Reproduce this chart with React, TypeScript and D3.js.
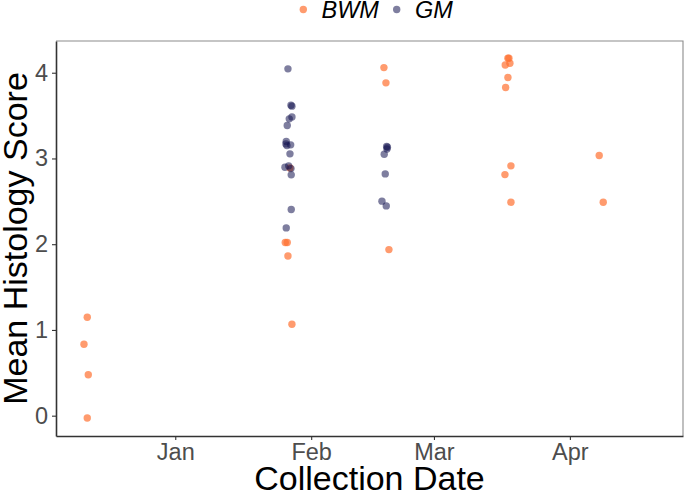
import { useEffect, useRef } from "react";
import * as d3 from "d3";

// days relative to 1 Jan 2019 (negative = December 2018), jittered as in the source plot
const BWM_DAYS = [
  -20.07, -20.82, -19.84, -20.07,
  25.09, 25.54, 25.7, 26.61, 26.16,
  47.59, 48.05, 48.73,
  75.87, 76.1, 75.26, 76.33, 75.87, 75.35, 76.56, 75.19, 76.56,
  96.69, 97.61,
];
const BWM_SCORES = [
  1.148, 0.833, 0.478, -0.027,
  2.019, 2.019, 1.863, 1.066, 2.89,
  4.06, 3.882, 1.937,
  4.17, 4.17, 4.09, 4.11, 3.944, 3.827, 2.914, 2.812, 2.49,
  3.034, 2.49,
];

const GM_DAYS = [
  25.7, 26.39, 26.61, 26.61, 26.0, 25.54, 25.31, 25.24, 25.47, 26.32, 26.16,
  25.02, 25.86, 26.39, 26.45, 26.45, 25.31,
  48.21, 48.39, 48.28, 47.66, 47.89, 47.14, 48.12,
];
const GM_SCORES = [
  4.045, 3.62, 3.61, 3.485, 3.462, 3.384, 3.197, 3.17, 3.15, 3.159, 3.054,
  2.898, 2.914, 2.882, 2.809, 2.404, 2.19,
  3.14, 3.13, 3.11, 3.05, 2.82, 2.502, 2.447,
];

const X_TICKS = ["2019-01-01", "2019-02-01", "2019-03-01", "2019-04-01"];
const Y_TICKS = [0, 1, 2, 3, 4];

const GROUPS = [
  { key: "BWM", color: "#ff7030", opacity: 0.7, days: BWM_DAYS, scores: BWM_SCORES },
  { key: "GM", color: "#141450", opacity: 0.55, days: GM_DAYS, scores: GM_SCORES },
];

export default function App() {
  const ref = useRef<SVGSVGElement | null>(null);

  useEffect(() => {
    const width = 685;
    const height = 494;
    const margin = { top: 41, right: 2, bottom: 58, left: 56 };
    const font = "'Liberation Sans', Arial, sans-serif";
    const origin = new Date(2019, 0, 1);
    const toDate = (d: number) => new Date(origin.getTime() + d * 864e5);

    const svg = d3.select(ref.current);
    svg.selectAll("*").remove();
    svg.attr("width", width).attr("height", height);

    svg.append("rect").attr("width", width).attr("height", height).attr("fill", "#fff");

    const x = d3
      .scaleTime()
      .domain([toDate(-27.2), toDate(115.8)])
      .range([margin.left, width - margin.right]);

    const y = d3
      .scaleLinear()
      .domain([-0.237, 4.37])
      .range([height - margin.bottom, margin.top]);

    const x0 = margin.left;
    const x1 = width - margin.right;
    const y0 = height - margin.bottom;
    const y1 = margin.top;

    // panel border (top / right)
    svg
      .append("path")
      .attr("d", `M${x0},${y1}H${x1}V${y0}`)
      .attr("fill", "none")
      .attr("stroke", "#8c8c8c")
      .attr("stroke-width", 1.1);

    // x axis
    const xAxis = svg
      .append("g")
      .attr("transform", `translate(0,${y0})`)
      .call(
        d3
          .axisBottom(x)
          .tickValues(X_TICKS.map((s) => new Date(s + "T00:00:00")))
          .tickFormat((d) => d3.timeFormat("%b")(d as Date))
          .tickSize(4)
          .tickSizeOuter(0)
          .tickPadding(3)
      );
    xAxis.select(".domain").attr("stroke", "#333").attr("stroke-width", 1.6);
    xAxis.selectAll(".tick line").attr("stroke", "#333").attr("stroke-width", 1.1);
    xAxis
      .selectAll(".tick text")
      .attr("fill", "#4d4d4d")
      .style("font-family", font)
      .style("font-size", "23.5px");

    // y axis
    const yAxis = svg
      .append("g")
      .attr("transform", `translate(${x0},0)`)
      .call(
        d3
          .axisLeft(y)
          .tickValues(Y_TICKS)
          .tickFormat(d3.format("d"))
          .tickSize(4)
          .tickSizeOuter(0)
          .tickPadding(4)
      );
    yAxis.select(".domain").attr("stroke", "#333").attr("stroke-width", 1.6);
    yAxis.selectAll(".tick line").attr("stroke", "#333").attr("stroke-width", 1.1);
    yAxis
      .selectAll(".tick text")
      .attr("fill", "#4d4d4d")
      .style("font-family", font)
      .style("font-size", "23.5px");

    // points
    GROUPS.forEach((g) => {
      svg
        .append("g")
        .selectAll("circle")
        .data(g.days.map((d, i) => ({ date: toDate(d), score: g.scores[i] })))
        .join("circle")
        .attr("cx", (d) => x(d.date))
        .attr("cy", (d) => y(d.score))
        .attr("r", 3.7)
        .attr("fill", g.color)
        .attr("fill-opacity", g.opacity);
    });

    // axis titles
    svg
      .append("text")
      .attr("x", (x0 + x1) / 2)
      .attr("y", 490)
      .attr("text-anchor", "middle")
      .style("font-family", font)
      .style("font-size", "34px")
      .attr("fill", "#000")
      .text("Collection Date");

    svg
      .append("text")
      .attr("transform", `translate(27,${(y0 + y1) / 2}) rotate(-90)`)
      .attr("text-anchor", "middle")
      .style("font-family", font)
      .style("font-size", "34px")
      .attr("fill", "#000")
      .text("Mean Histology Score");

    // legend
    const legend = svg.append("g");
    const legendItems = [
      { key: "BWM", color: "#ff7030", opacity: 0.7, dot: 303.3, text: 321.5 },
      { key: "GM", color: "#141450", opacity: 0.55, dot: 396.7, text: 415 },
    ];
    legendItems.forEach((l) => {
      legend
        .append("circle")
        .attr("cx", l.dot)
        .attr("cy", 9.5)
        .attr("r", 3.7)
        .attr("fill", l.color)
        .attr("fill-opacity", l.opacity);
      legend
        .append("text")
        .attr("x", l.text)
        .attr("y", 18.3)
        .style("font-family", font)
        .style("font-size", "23.5px")
        .style("font-style", "italic")
        .attr("fill", "#000")
        .text(l.key);
    });
  }, []);

  return <svg ref={ref} style={{ position: "absolute", left: 0, top: 0, display: "block" }} />;
}
